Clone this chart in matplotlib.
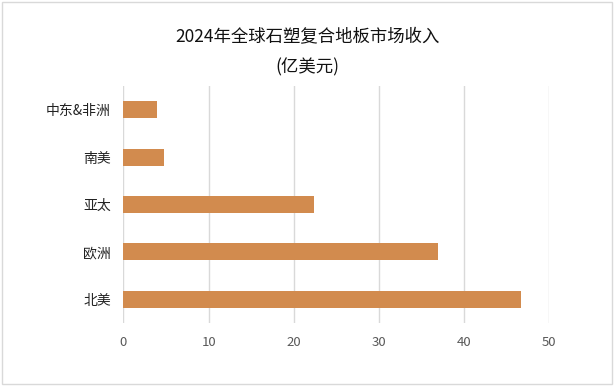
import matplotlib
matplotlib.use('Agg')
import matplotlib.pyplot as plt
from matplotlib.patches import Rectangle

plt.rcParams['font.family'] = ['Noto Sans CJK SC', 'DejaVu Sans']

regions = ['中东&非洲', '南美', '亚太', '欧洲', '北美']
revenue = [3.9, 4.8, 22.4, 36.9, 46.7]
xticks = [0, 10, 20, 30, 40, 50]

fig = plt.figure(figsize=(6.15, 3.86), dpi=100)
ax = fig.add_axes([0.2008, 0.1632, 0.6924, 0.614])

pos = list(range(len(regions)))
ax.barh(pos, revenue, height=0.36, color='#D28B4E', zorder=2)
ax.set_ylim(len(regions) - 0.5, -0.5)
ax.set_yticks(pos)
ax.set_yticklabels(regions, fontsize=10, color='#222222')

ax.set_xlim(0, 50)
ax.set_xticks(xticks)
ax.set_xticklabels([str(t) for t in xticks], fontsize=9.5, color='#595959')
ax.xaxis.grid(True, color='#D9D9D9', linewidth=1, zorder=0)
ax.tick_params(length=0)
ax.tick_params(axis='x', pad=9)
ax.tick_params(axis='y', pad=9)
for s in ax.spines.values():
    s.set_visible(False)

fig.text(0.5, 1 - 37 / 386, '2024年全球石塑复合地板市场收入', ha='center', va='center',
         fontsize=12.5, color='#111111')
fig.text(0.5, 1 - 67 / 386, '(亿美元)', ha='center', va='center',
         fontsize=12.5, color='#111111')

fig.patches.append(Rectangle((0.003, 0.004), 0.992, 0.99, transform=fig.transFigure,
                             fill=False, edgecolor='#D9D9D9', linewidth=1))

fig.savefig('out.png', dpi=100)
